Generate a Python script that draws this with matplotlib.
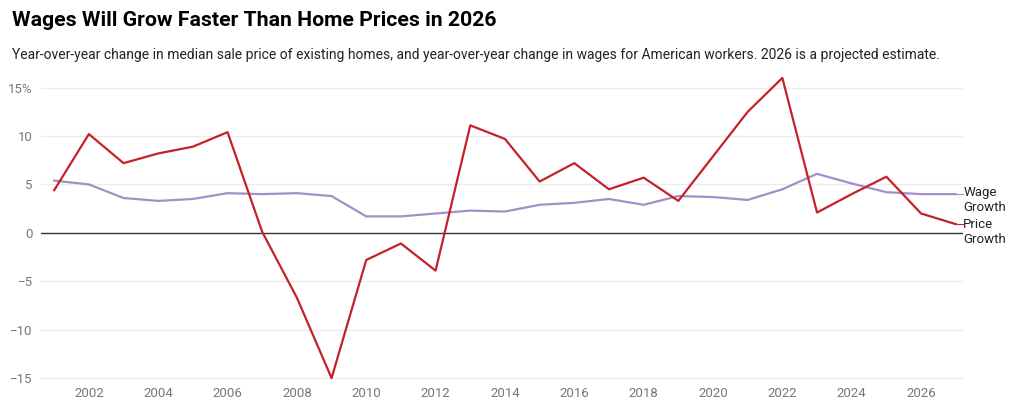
import numpy as np
import matplotlib.pyplot as plt

plt.rcParams['font.family'] = ['Roboto', 'DejaVu Sans']

years = list(range(2001, 2028))
price_growth = [4.4, 10.2, 7.2, 8.2, 8.9, 10.4, 0.1, -6.7, -15.0, -2.8, -1.1, -3.9,
                11.1, 9.7, 5.3, 7.2, 4.5, 5.7, 3.3, 7.9, 12.5, 16.0, 2.1, 4.0, 5.8, 2.0, 0.9]
wage_growth = [5.4, 5.0, 3.6, 3.3, 3.5, 4.1, 4.0, 4.1, 3.8, 1.7, 1.7, 2.0,
               2.3, 2.2, 2.9, 3.1, 3.5, 2.9, 3.8, 3.7, 3.4, 4.5, 6.1, 5.1, 4.2, 4.0, 4.0]
yticks = [-15, -10, -5, 0, 5, 10, 15]
ytick_labels = ['\u221215', '\u221210', '\u22125', '0', '5', '10', '15%']
xticks = list(range(2002, 2027, 2))

W, H = 1025, 417
fig = plt.figure(figsize=(W / 100, H / 100), dpi=100)
ax = fig.add_axes([41 / W, 1 - 381 / H, (963 - 41) / W, (381 - 76) / H])

ax.plot(years, wage_growth, color='#a38fc8', lw=1.6, zorder=3)
ax.plot(years, price_growth, color='#c4212b', lw=1.6, zorder=4)

ax.set_xlim(2000.62, 2027.21)
ax.set_ylim(-15.3, 16.2)
ax.set_yticks(yticks)
ax.set_yticklabels(ytick_labels)
ax.set_xticks(xticks)
ax.set_xticklabels([str(x) for x in xticks])
ax.tick_params(axis='both', length=0, labelsize=9.5, labelcolor='#777777')
ax.tick_params(axis='x', pad=4)
ax.tick_params(axis='y', pad=6)

for v in yticks:
    if v == 0:
        ax.axhline(0, color='#333333', lw=1, zorder=2)
    else:
        ax.axhline(v, color='#ececec', lw=1, zorder=1)

for s in ax.spines.values():
    s.set_visible(False)

# short connectors from line ends to labels
ax.plot([2027.05, 2027.2], [wage_growth[-1]] * 2, color='#a38fc8', lw=0.8, clip_on=False)
ax.plot([2027.05, 2027.2], [price_growth[-1]] * 2, color='#c4212b', lw=0.8, clip_on=False)

ax.text(2027.22, wage_growth[-1] - 0.6, 'Wage\nGrowth', fontsize=9.5, color='#222222',
        va='center', ha='left', linespacing=1.15, clip_on=False)
ax.text(2027.22, price_growth[-1] - 0.8, 'Price\nGrowth', fontsize=9.5, color='#222222',
        va='center', ha='left', linespacing=1.15, clip_on=False)

fig.text(12 / W, 1 - 20 / H, 'Wages Will Grow Faster Than Home Prices in 2026',
         fontsize=15.3, fontweight='bold', color='#000000', va='center', ha='left')
fig.text(12 / W, 1 - 55 / H,
         'Year-over-year change in median sale price of existing homes, and year-over-year change '
         'in wages for American workers. 2026 is a projected estimate.',
         fontsize=10, color='#222222', va='center', ha='left')

fig.savefig('out.png', dpi=100, facecolor='white')
